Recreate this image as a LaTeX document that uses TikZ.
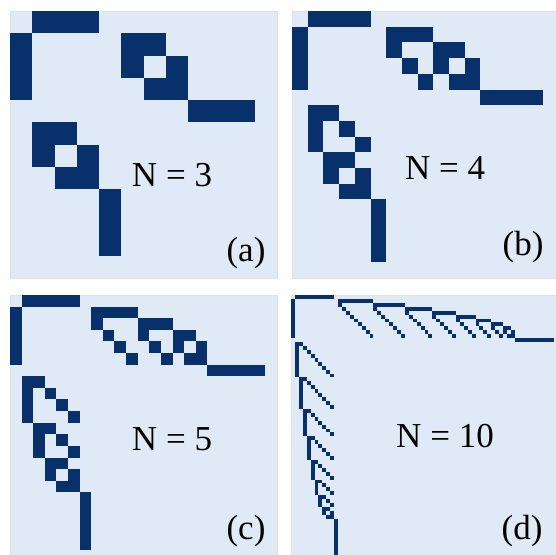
\documentclass[tikz,border=0pt]{standalone}
\usepackage{fontspec}
\setmainfont{Liberation Serif}
\usepackage{xcolor}

\definecolor{cellblue}{RGB}{8,48,107}
\definecolor{bgblue}{RGB}{223,234,246}

% one nonzero entry and its mirror
\newcommand{\spcell}[2]{%
  \fill[cell] (\ox+#2*\cs, \oy+#1*\cs) rectangle ++(\cs,\cs);
  \fill[cell] (\ox+#1*\cs, \oy+#2*\cs) rectangle ++(\cs,\cs);}

\begin{document}
\begin{tikzpicture}[
        x=1pt, y=-1pt,
        cell/.style={fill=cellblue},
        panel/.style={fill=bgblue, draw=black!12, line width=0.6pt},
        lbl/.style={font=\fontsize{35}{40}\selectfont, inner sep=0pt}
    ]
    \useasboundingbox (0,0) rectangle (556,554);
    \clip (0,0) rectangle (556,554);

    \foreach \ox/\oy/\N/\nx/\ny/\tag/\tx/\ty in {
        10/11/3/172/175/a/246/253,
        292/11/4/445/168/b/523/247,
        10/295/5/172/439/c/246/531,
        291/295/10/445/436/d/522/531}{
        \edef\nn{\the\numexpr\N*(\N-1)/2+2*\N+3\relax}
        \edef\hub{\the\numexpr\N+1\relax}
        \edef\last{\the\numexpr\N*(\N-1)/2+\N+2\relax}
        \pgfmathsetmacro\cs{267/\nn}
        \fill[panel] (\ox,\oy) rectangle ++(267,267);
        \foreach \i in {1,...,\N}{
            \spcell{0}{\i}
            \edef\k{\the\numexpr\last+\i-1\relax}
            \spcell{\hub}{\k}
            \foreach \j in {1,...,\N}{
                \ifnum\j>\i
                    \edef\v{\the\numexpr\N+2+(\i-1)*\N-(\i-1)*\i/2+\j-\i-1\relax}
                    \spcell{\i}{\v}
                    \spcell{\j}{\v}
                \fi
            }
        }
        \node[lbl] (n\tag) at (\nx,\ny) {N = \N};
        \node[lbl] (t\tag) at (\tx,\ty) {(\tag)};
    }
\end{tikzpicture}
\end{document}
